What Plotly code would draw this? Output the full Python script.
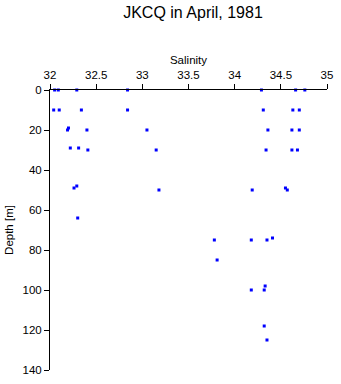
import plotly.graph_objects as go

salinity = [32.05, 32.09, 32.29, 32.84, 34.29, 34.66, 34.76,
            32.04, 32.10, 32.34, 32.84, 34.31, 34.63, 34.70,
            32.19, 32.20, 32.40, 33.05, 34.36, 34.62, 34.70,
            32.22, 32.31, 32.41, 33.15, 34.34, 34.62, 34.68,
            32.26, 32.29, 32.30, 33.18, 34.19, 34.55, 34.57,
            33.78, 33.81, 34.18, 34.35, 34.41,
            34.18, 34.32, 34.33, 34.32, 34.35]
depth = [0, 0, 0, 0, 0, 0, 0,
         10, 10, 10, 10, 10, 10, 10,
         20, 19, 20, 20, 20, 20, 20,
         29, 29, 30, 30, 30, 30, 30,
         49, 48, 64, 50, 50, 49, 50,
         75, 85, 75, 75, 74,
         100, 100, 98, 118, 125]

fig = go.Figure()
fig.add_trace(go.Scatter(
    x=salinity, y=depth, mode="markers",
    marker=dict(symbol="square", size=3, color="#0000ff", line=dict(width=0)),
    cliponaxis=False, showlegend=False,
))

font = "Liberation Sans, Arial, sans-serif"
fig.update_layout(
    width=341, height=384,
    margin=dict(l=47, r=8, t=90, b=9),
    paper_bgcolor="white", plot_bgcolor="white",
    font=dict(family=font, size=11.5, color="black"),
    title=dict(text="JKCQ in April, 1981", x=193/341, xanchor="center",
               y=1 - 12/384, yanchor="middle", font=dict(size=16)),
    xaxis=dict(side="top", range=[32, 35], tickvals=[32, 32.5, 33, 33.5, 34, 34.5, 35],
               ticktext=["32", "32.5", "33", "33.5", "34", "34.5", "35"],
               ticks="outside", ticklen=5, tickcolor="black", showgrid=False,
               zeroline=False, showline=True, linecolor="black", linewidth=1,
               title=dict(text="Salinity", standoff=2, font=dict(size=11.5))),
    yaxis=dict(range=[140, 0], tickvals=[0, 20, 40, 60, 80, 100, 120, 140],
               ticks="outside", ticklen=5, tickcolor="black", showgrid=False,
               zeroline=False, showline=True, linecolor="black", linewidth=1,
               title=dict(text="Depth [m]", standoff=6, font=dict(size=11.5))),
)
fig.write_html("out.html")
